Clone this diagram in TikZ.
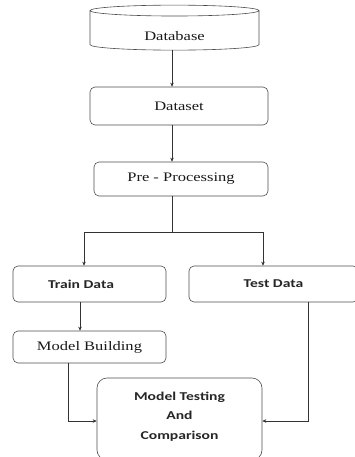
\documentclass[tikz,border=0pt]{standalone}
\usepackage{fontspec}
\usepackage{xcolor}
\usetikzlibrary{shapes.geometric,arrows.meta}
\newfontfamily\boxserif[FakeStretch=1.27]{Liberation Serif}
\newfontfamily\boxsans[FakeStretch=1.3]{Carlito}

\begin{document}
\begin{tikzpicture}[x=1pt,y=-1pt,
  box/.style={draw=black!70, line width=0.6pt, rounded corners=5pt, inner sep=0pt},
  seriftext/.style={font=\boxserif\fontsize{13}{15}\selectfont, text=black!90},
  serifbox/.style={box, seriftext},
  sansbox/.style={box, font=\boxsans\bfseries\fontsize{12}{19.5}\selectfont, text=black!85},
  flow/.style={draw=black!80, line width=0.7pt, -{Stealth[length=4pt,width=3.5pt]}}]
  % Fix the page size
  \useasboundingbox (0,0) rectangle (355,457);

  % Boxes
  \node[cylinder, shape border rotate=90, aspect=0.18, draw=black!70, line width=0.6pt,
        minimum width=169pt, minimum height=45pt, inner sep=0pt, seriftext] (db) at (174.5,30.5)
    {\raisebox{-6pt}[\height][\depth]{Database}};
  \node[serifbox, minimum width=178pt, minimum height=38pt] (dataset) at (179,106) {Dataset};
  \node[serifbox, minimum width=174pt, minimum height=34pt] (prep) at (181,179) {Pre - Processing};
  \node[sansbox, minimum width=153pt, minimum height=36pt] (train) at (89.5,284) {\hspace*{-17pt}Train Data};
  \node[sansbox, minimum width=169pt, minimum height=36pt] (test) at (273.5,284) {Test Data};
  \node[serifbox, minimum width=153pt, minimum height=32pt] (build) at (89.5,347) {Model Building};
  \node[sansbox, rounded corners=10pt, minimum width=165pt, minimum height=82pt, align=center] (eval) at (179.5,419)
    {Model Testing\\And\\Comparison\\[-13pt]};

  % Helper points for the connectors
  \coordinate (trunk) at (172,232);
  \coordinate (lbr) at (84,232);
  \coordinate (rbr) at (263,232);
  \coordinate (lcol) at (80,0);
  \coordinate (bcol) at (68,421);
  \coordinate (tcol) at (308,421);

  % Connectors
  \draw[flow] (db.south -| trunk) -- (dataset.north -| trunk);
  \draw[flow] (dataset.south -| trunk) -- (prep.north -| trunk);
  \draw[draw=black!80, line width=0.7pt] (prep.south -| trunk) -- (trunk);
  \draw[draw=black!80, line width=0.7pt] (lbr) -- (rbr);
  \draw[flow] (lbr) -- (train.north -| lbr);
  \draw[flow] (rbr) -- (test.north -| rbr);
  \draw[flow] (train.south -| lcol) -- (build.north -| lcol);
  \draw[flow] (build.south -| bcol) -- (bcol) -- (eval.west |- bcol);
  \draw[flow] (test.south -| tcol) -- (tcol) -- (eval.east |- tcol);
\end{tikzpicture}
\end{document}
